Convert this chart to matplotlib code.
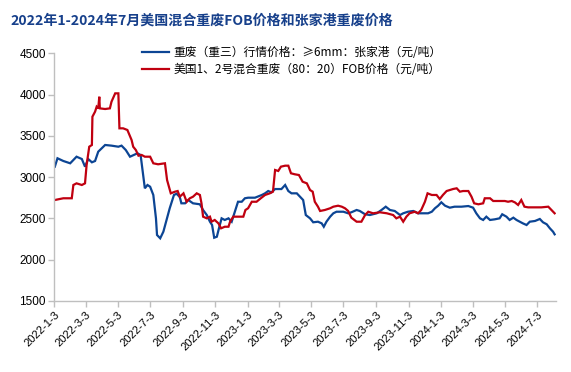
import matplotlib
matplotlib.use("Agg")
import matplotlib.pyplot as plt
import pandas as pd

plt.rcParams['font.family'] = ['Noto Sans CJK SC', 'DejaVu Sans']

title = "2022年1-2024年7月美国混合重废FOB价格和张家港重废价格"
label_blue = "重废（重三）行情价格：≥6mm：张家港（元/吨）"
label_red = "美国1、2号混合重废（80：20）FOB价格（元/吨）"

blue_dates = [
    "2022-01-04", "2022-01-09", "2022-01-20", "2022-02-02", "2022-02-14", "2022-02-24",
    "2022-03-02", "2022-03-08", "2022-03-15", "2022-03-21", "2022-03-27", "2022-04-09",
    "2022-04-21", "2022-05-04", "2022-05-10", "2022-05-18", "2022-05-26", "2022-06-02",
    "2022-06-09", "2022-06-15", "2022-06-19", "2022-06-23", "2022-06-28", "2022-07-03",
    "2022-07-09", "2022-07-14", "2022-07-16", "2022-07-22", "2022-07-28", "2022-08-03",
    "2022-08-09", "2022-08-17", "2022-08-22", "2022-08-28", "2022-08-31", "2022-09-07",
    "2022-09-13", "2022-09-22", "2022-10-05", "2022-10-11", "2022-10-18", "2022-10-24",
    "2022-10-28", "2022-11-01", "2022-11-06", "2022-11-10", "2022-11-15", "2022-11-21",
    "2022-11-28", "2022-12-04", "2022-12-10", "2022-12-16", "2022-12-23", "2022-12-29",
    "2023-01-04", "2023-01-17", "2023-01-30", "2023-02-05", "2023-02-11", "2023-02-17",
    "2023-02-24", "2023-03-08", "2023-03-15", "2023-03-21", "2023-03-27", "2023-04-06",
    "2023-04-12", "2023-04-18", "2023-04-23", "2023-05-01", "2023-05-07", "2023-05-16",
    "2023-05-23", "2023-05-27", "2023-06-01", "2023-06-08", "2023-06-14", "2023-06-20",
    "2023-07-03", "2023-07-12", "2023-07-18", "2023-07-28", "2023-08-03", "2023-08-13",
    "2023-08-22", "2023-09-04", "2023-09-13", "2023-09-21", "2023-09-29", "2023-10-08",
    "2023-10-18", "2023-10-24", "2023-11-02", "2023-11-12", "2023-11-21", "2023-12-01",
    "2023-12-10", "2023-12-17", "2023-12-23", "2023-12-29", "2024-01-04", "2024-01-11",
    "2024-01-20", "2024-01-29", "2024-02-11", "2024-02-24", "2024-03-04", "2024-03-10",
    "2024-03-17", "2024-03-23", "2024-03-29", "2024-04-05", "2024-04-14", "2024-04-23",
    "2024-04-28", "2024-05-06", "2024-05-12", "2024-05-19", "2024-05-25", "2024-05-31",
    "2024-06-06", "2024-06-13", "2024-06-19", "2024-06-29", "2024-07-08", "2024-07-14",
    "2024-07-21", "2024-07-27", "2024-08-02", "2024-08-05",
]
blue_values = [
    3128, 3230, 3197, 3169, 3249, 3221,
    3128, 3221, 3181, 3197, 3310, 3391,
    3383, 3370, 3383, 3330, 3249, 3270,
    3290, 3270, 3067, 2866, 2906, 2885,
    2785, 2502, 2300, 2260, 2340, 2482,
    2624, 2785, 2800, 2760, 2684, 2684,
    2724, 2684, 2672, 2603, 2542, 2461,
    2421, 2267, 2279, 2381, 2502, 2482,
    2502, 2461, 2582, 2703, 2703, 2745,
    2752, 2752, 2785, 2805, 2833, 2817,
    2857, 2857, 2906, 2833, 2805, 2805,
    2765, 2724, 2542, 2502, 2454, 2461,
    2441, 2400, 2461, 2522, 2563, 2582,
    2582, 2563, 2575, 2603, 2591, 2551,
    2542, 2563, 2603, 2643, 2603, 2591,
    2542, 2563, 2582, 2591, 2563, 2563,
    2563, 2582, 2624, 2655, 2696, 2655,
    2631, 2643, 2643, 2651, 2631, 2563,
    2502, 2482, 2522, 2482, 2490, 2502,
    2551, 2522, 2482, 2510, 2482, 2461,
    2441, 2421, 2461, 2470, 2494, 2454,
    2430, 2381, 2340, 2308,
]

red_dates = [
    "2022-01-04", "2022-01-20", "2022-02-05", "2022-02-08", "2022-02-14", "2022-02-24",
    "2022-03-02", "2022-03-05", "2022-03-10", "2022-03-15", "2022-03-16", "2022-03-21",
    "2022-03-24", "2022-03-27", "2022-03-29", "2022-03-30", "2022-04-09", "2022-04-18",
    "2022-04-21", "2022-04-28", "2022-05-04", "2022-05-06", "2022-05-13", "2022-05-21",
    "2022-05-25", "2022-05-29", "2022-06-01", "2022-06-06", "2022-06-11", "2022-06-17",
    "2022-06-23", "2022-07-03", "2022-07-09", "2022-07-18", "2022-07-31", "2022-08-04",
    "2022-08-11", "2022-08-19", "2022-08-24", "2022-08-28", "2022-09-04", "2022-09-10",
    "2022-09-16", "2022-09-22", "2022-09-29", "2022-10-05", "2022-10-08", "2022-10-11",
    "2022-10-18", "2022-10-24", "2022-10-27", "2022-11-02", "2022-11-09", "2022-11-14",
    "2022-11-21", "2022-11-28", "2022-12-01", "2022-12-07", "2022-12-26", "2022-12-30",
    "2023-01-04", "2023-01-11", "2023-01-20", "2023-01-28", "2023-02-05", "2023-02-14",
    "2023-02-20", "2023-02-24", "2023-03-02", "2023-03-07", "2023-03-15", "2023-03-21",
    "2023-03-26", "2023-04-02", "2023-04-10", "2023-04-17", "2023-04-25", "2023-05-01",
    "2023-05-06", "2023-05-10", "2023-05-16", "2023-05-20", "2023-05-29", "2023-06-08",
    "2023-06-14", "2023-06-23", "2023-06-30", "2023-07-06", "2023-07-12", "2023-07-18",
    "2023-07-28", "2023-08-06", "2023-08-13", "2023-08-19", "2023-08-28", "2023-09-10",
    "2023-09-23", "2023-10-05", "2023-10-11", "2023-10-18", "2023-10-24", "2023-10-30",
    "2023-11-05", "2023-11-15", "2023-11-21", "2023-11-27", "2023-12-04", "2023-12-09",
    "2023-12-17", "2023-12-26", "2024-01-01", "2024-01-07", "2024-01-14", "2024-01-20",
    "2024-01-26", "2024-02-02", "2024-02-08", "2024-02-14", "2024-02-24", "2024-03-01",
    "2024-03-06", "2024-03-14", "2024-03-23", "2024-03-26", "2024-04-05", "2024-04-11",
    "2024-04-23", "2024-05-03", "2024-05-09", "2024-05-16", "2024-05-22", "2024-05-28",
    "2024-06-03", "2024-06-09", "2024-06-16", "2024-07-11", "2024-07-24", "2024-07-30",
    "2024-08-05",
]
red_values = [
    2724, 2745, 2745, 2906, 2926, 2906,
    2926, 3148, 3370, 3391, 3734, 3795,
    3855, 3835, 3976, 3835, 3827, 3835,
    3915, 4017, 4017, 3593, 3593, 3573,
    3512, 3451, 3370, 3330, 3261, 3270,
    3249, 3249, 3169, 3157, 3169, 2966,
    2805, 2825, 2833, 2764, 2805, 2703,
    2745, 2764, 2805, 2785, 2684, 2522,
    2502, 2522, 2461, 2482, 2441, 2381,
    2400, 2400, 2461, 2522, 2522, 2603,
    2624, 2703, 2703, 2745, 2785, 2805,
    2825, 3088, 3076, 3128, 3140, 3140,
    3048, 3036, 3027, 2946, 2926, 2845,
    2825, 2703, 2643, 2591, 2603, 2624,
    2643, 2655, 2643, 2624, 2591, 2510,
    2461, 2461, 2542, 2582, 2563, 2575,
    2563, 2542, 2502, 2522, 2461, 2522,
    2563, 2582, 2563, 2603, 2703, 2805,
    2785, 2785, 2736, 2785, 2833, 2845,
    2857, 2866, 2825, 2833, 2833, 2764,
    2684, 2672, 2684, 2745, 2745, 2712,
    2712, 2712, 2703, 2712, 2695, 2664,
    2724, 2643, 2635, 2635, 2643, 2603,
    2563,
]

tick_labels = ["2022-1-3", "2022-3-3", "2022-5-3", "2022-7-3", "2022-9-3", "2022-11-3",
               "2023-1-3", "2023-3-3", "2023-5-3", "2023-7-3", "2023-9-3", "2023-11-3",
               "2024-1-3", "2024-3-3", "2024-5-3", "2024-7-3"]
y_ticks = [1500, 2000, 2500, 3000, 3500, 4000, 4500]

blue_color = "#0C4594"
red_color = "#C00010"

fig = plt.figure(figsize=(5.71, 3.72), dpi=100)
ax = fig.add_axes([0.0951, 0.1909, 0.8781, 0.6653])

ax.plot(pd.to_datetime(blue_dates), blue_values, color=blue_color, lw=1.6,
        label=label_blue, solid_joinstyle='miter')
ax.plot(pd.to_datetime(red_dates), red_values, color=red_color, lw=1.6,
        label=label_red, solid_joinstyle='miter')

ax.set_ylim(1500, 4500)
ax.set_yticks(y_ticks)
ax.set_yticklabels([str(v) for v in y_ticks], fontsize=8.5, family=['Liberation Sans', 'DejaVu Sans'])

tick_pos = pd.to_datetime(tick_labels, format="%Y-%m-%d")
ax.set_xlim(pd.Timestamp("2022-01-03"), pd.Timestamp("2024-08-07"))
ax.set_xticks(tick_pos)
ax.set_xticklabels(tick_labels, rotation=45, ha='right', rotation_mode='anchor',
                   fontsize=8, family=['Liberation Sans', 'DejaVu Sans'])

for s in ['top', 'right']:
    ax.spines[s].set_visible(False)
for s in ['left', 'bottom']:
    ax.spines[s].set_color('#BFBFBF')
    ax.spines[s].set_linewidth(1.0)
ax.tick_params(axis='both', color='#BFBFBF', length=4, width=1.0, pad=2)

fig.text(0.018, 0.944, title, fontsize=10.1, fontweight='heavy', color='#17408B',
         ha='left', va='center')

fig.legend(loc='upper left', bbox_to_anchor=(0.248, 0.877), frameon=False,
           fontsize=8.5, handlelength=2.3, handletextpad=0.4, labelspacing=0.38,
           borderaxespad=0, borderpad=0)

fig.savefig("out.png", dpi=100)
